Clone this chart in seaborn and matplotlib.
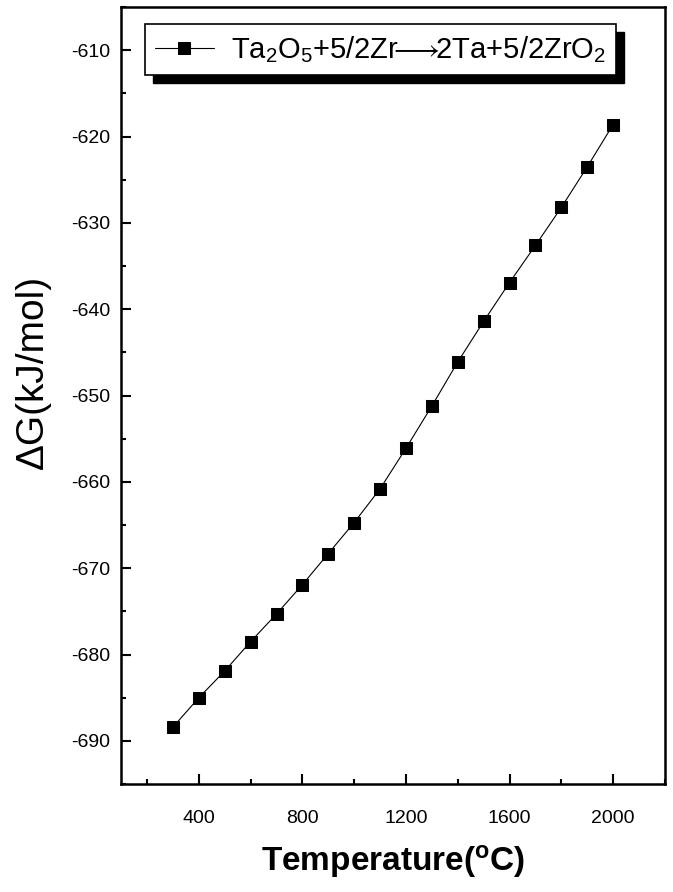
import numpy as np
import pandas as pd
import matplotlib
matplotlib.use('Agg')
import matplotlib.pyplot as plt
import seaborn as sns
from matplotlib.ticker import MultipleLocator
from matplotlib.patches import Rectangle
from matplotlib.transforms import IdentityTransform

# Données
temperature = [300, 400, 500, 600, 700, 800, 900, 1000, 1100, 1200,
               1300, 1400, 1500, 1600, 1700, 1800, 1900, 2000]
delta_g = [-688.4, -685.0, -681.9, -678.5, -675.3, -671.9, -668.3, -664.7,
           -660.8, -656.1, -651.2, -646.1, -641.4, -636.9, -632.6, -628.2,
           -623.5, -618.6]
x_ticks = [400, 800, 1200, 1600, 2000]
y_ticks = [-690, -680, -670, -660, -650, -640, -630, -620, -610]
reaction = r'Ta$_2$O$_5$+5/2Zr$\!\!{\longrightarrow}\!\!$2Ta+5/2ZrO$_2$'

sns.set_theme(style='ticks')
plt.rcParams['font.family'] = ['Liberation Sans', 'DejaVu Sans']
plt.rcParams['mathtext.fontset'] = 'custom'
plt.rcParams['mathtext.rm'] = 'Liberation Sans'
plt.rcParams['mathtext.bf'] = 'Liberation Sans:bold'
plt.rcParams['mathtext.default'] = 'regular'
plt.rcParams['mathtext.fallback'] = 'stixsans'
plt.rcParams['axes.unicode_minus'] = False
plt.rcParams['text.color'] = 'black'
plt.rcParams['axes.labelcolor'] = 'black'

df = pd.DataFrame({'T': temperature, 'G': delta_g})

fig = plt.figure(figsize=(6.73, 8.92), dpi=100)
ax = fig.add_axes([0.18, 0.121, 0.808, 0.871])

sns.lineplot(data=df, x='T', y='G', ax=ax, color='black', lw=0.8,
             marker='s', markersize=8.5, markeredgecolor='black',
             label=reaction)

ax.set_xlim(100, 2200)
ax.set_ylim(-695, -605)
ax.set_xticks(x_ticks)
ax.set_yticks(y_ticks)
ax.xaxis.set_minor_locator(MultipleLocator(200))
ax.yaxis.set_minor_locator(MultipleLocator(5))
ax.tick_params(which='both', direction='in', top=False, right=False,
               labelsize=14, colors='black')
ax.tick_params(which='major', length=7, width=1.5)
ax.tick_params(which='minor', length=3.5, width=1.5)
ax.tick_params(axis='y', which='major', pad=8)
ax.tick_params(axis='x', which='major', pad=19)
for s in ax.spines.values():
    s.set_linewidth(1.8)
    s.set_color('black')
    s.set_visible(True)

ax.set_xlabel(r'Temperature($^{\mathbf{o}}$C)', fontsize=24,
              fontweight='bold', labelpad=11)
ax.set_ylabel('ΔG(kJ/mol)', fontsize=28)
ax.yaxis.set_label_coords(-0.13, 0.53)

leg = ax.legend(loc='upper left', bbox_to_anchor=(0.044, 0.978),
                borderaxespad=0, fancybox=False, frameon=True,
                fontsize=21, handlelength=2.0, handletextpad=0.6,
                borderpad=0.35)
leg.get_frame().set_edgecolor('black')
leg.get_frame().set_linewidth(1.2)
leg.get_frame().set_alpha(1)

# ombre noire décalée derrière la légende
fig.canvas.draw()
bb = leg.get_window_extent()
shadow = Rectangle((bb.x0 + 8, bb.y0 - 8), bb.width, bb.height,
                   transform=IdentityTransform(), color='black',
                   zorder=leg.get_zorder() - 0.5, clip_on=False)
ax.add_artist(shadow)

plt.savefig('out.png', dpi=100)
